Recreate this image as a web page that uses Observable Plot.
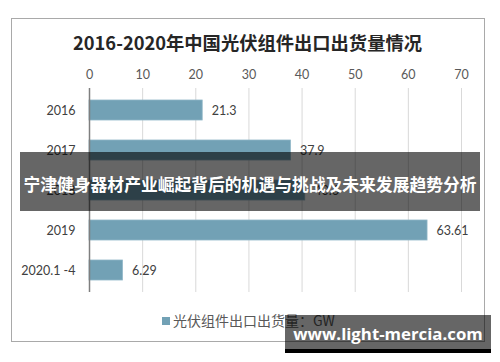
<!DOCTYPE html>
<html><head><meta charset="utf-8">
<script src="https://cdn.jsdelivr.net/npm/d3@7"></script>
<script src="https://cdn.jsdelivr.net/npm/@observablehq/plot@0.6"></script>
<style>
html,body{margin:0;padding:0;background:#fff;}
#wrap{position:relative;width:500px;height:362px;overflow:hidden;font-family:"Noto Sans CJK SC","Noto Sans",sans-serif;}
#frame{position:absolute;left:11px;top:18px;width:472px;height:322px;border:1px solid #a9a9a9;box-sizing:content-box;}
#title{position:absolute;left:0;width:495px;top:30px;text-align:center;font-size:18.3px;font-weight:bold;color:#262626;line-height:24px;}
#chart{position:absolute;left:0;top:0;}
#legend{position:absolute;left:162px;top:311px;font-size:14px;color:#595959;line-height:18px;white-space:nowrap;}
#legend span.sw{display:inline-block;width:8px;height:8px;background:#72a1b5;margin-right:3px;vertical-align:1px;}
#banner{position:absolute;left:20px;top:152px;width:460px;height:59px;overflow:hidden;background:rgba(0,0,0,0.6);color:#fff;font-weight:bold;font-size:16.8px;line-height:65px;text-align:center;white-space:nowrap;}
#wm{position:absolute;left:285px;top:315px;width:206px;height:34px;background:rgba(0,0,0,0.6);border-bottom:4px solid #000;color:#fff;font-family:"Open Sans",sans-serif;font-weight:bold;font-size:16.8px;line-height:38px;text-align:center;white-space:nowrap;}
</style></head>
<body><div id="wrap">
<div id="frame"></div>
<div id="title">2016-2020年中国光伏组件出口出货量情况</div>
<div id="chart"></div>
<div id="legend"><span class="sw"></span>光伏组件出口出货量：GW</div>
<div id="banner">宁津健身器材产业崛起背后的机遇与挑战及未来发展趋势分析</div>
<div id="wm">www.light-mercia.com</div>
</div>
<script>
const categories = ["2016", "2017", "2018", "2019", "2020.1 -4"];
const values = [21.3, 37.9, 40.6, 63.61, 6.29];
const xTicks = [0, 10, 20, 30, 40, 50, 60, 70];
const barColor = "#72a1b5";

const data = categories.map((c, i) => ({cat: c, value: values[i]}));

const chart = Plot.plot({
  width: 500,
  height: 362,
  marginLeft: 89,
  marginRight: 39,
  marginTop: 88,
  marginBottom: 70,
  style: {background: "transparent", fontFamily: "Lato, 'Noto Sans', sans-serif", fontSize: "12.5px", color: "#404040"},
  x: {domain: [0, 70], ticks: xTicks},
  y: {domain: categories, paddingInner: 0.5, paddingOuter: 0.25, align: 0.5},
  marks: [
    Plot.gridX(xTicks, {stroke: "#d9d9d9", strokeOpacity: 1}),
    Plot.barX(data, {x: "value", y: "cat", fill: barColor, stroke: "#8fb6c7", strokeWidth: 0.8}),
    Plot.ruleX([0], {stroke: "#7f7f7f", strokeWidth: 1.5}),
    Plot.text(data, {x: "value", y: "cat", text: d => String(d.value), dx: 9, textAnchor: "start", fill: "#404040", fontSize: 12.5}),
    Plot.axisX(xTicks, {anchor: "top", tickSize: 0, tickPadding: 10, label: null, fill: "#595959", fontSize: 12.5}),
    Plot.axisY({anchor: "left", tickSize: 0, tickPadding: 14, label: null, fill: "#404040", fontSize: 12.5})
  ]
});
document.getElementById("chart").appendChild(chart);
</script>
</body></html>
